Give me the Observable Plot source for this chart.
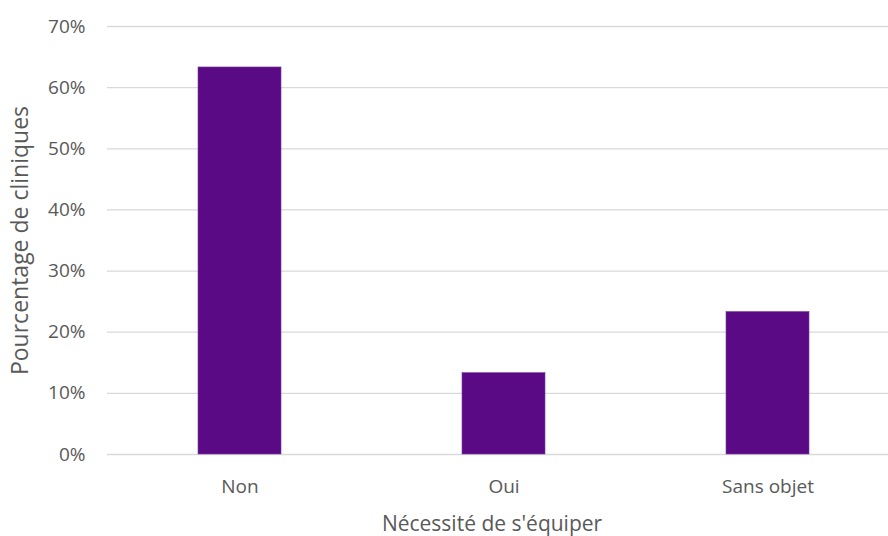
<!DOCTYPE html>
<html>
<head>
<meta charset="utf-8">
<script src="https://cdn.jsdelivr.net/npm/d3@7"></script>
<script src="https://cdn.jsdelivr.net/npm/@observablehq/plot@0.6"></script>
<style>
  html, body { margin: 0; padding: 0; background: #fff; }
  #chart svg { display: block; }
</style>
</head>
<body>
<div id="chart"></div>
<script>
const categories = ["Non", "Oui", "Sans objet"];
const values = [0.633, 0.133, 0.233];
const yTicks = [0, 0.1, 0.2, 0.3, 0.4, 0.5, 0.6, 0.7];
const xTitle = "Nécessité de s'équiper";
const yTitle = "Pourcentage de cliniques";

const data = categories.map((c, i) => ({category: c, value: values[i]}));

const font = "'Open Sans', Calibri, sans-serif";
const grey = "#595959";

const chart = Plot.plot({
  width: 888,
  height: 536,
  marginLeft: 107,
  marginRight: 0,
  marginTop: 26,
  marginBottom: 82,
  style: {fontFamily: font, background: "#fff"},
  x: {domain: categories, range: [107, 900], paddingInner: 0.686, paddingOuter: 0.343},
  y: {domain: [0, 0.7]},
  marks: [
    Plot.ruleY(yTicks, {stroke: "#d9d9d9", strokeWidth: 1.3}),
    Plot.barY(data, {x: "category", y: "value", fill: "#5a0a85", stroke: "#7a3aa0", strokeWidth: 0.6}),
    Plot.axisY({ticks: yTicks, tickFormat: d3.format(".0%"), tickSize: 0, tickPadding: 22, fontSize: 19, color: grey, label: null}),
    Plot.axisX({tickSize: 0, tickPadding: 25, fontSize: 19, color: grey, label: null}),
    Plot.text([xTitle], {frameAnchor: "bottom", lineAnchor: "middle", textAnchor: "middle", dy: 70, dx: -6, fontSize: 21, fill: grey}),
    Plot.text([yTitle], {frameAnchor: "left", lineAnchor: "middle", textAnchor: "middle", dx: -87, rotate: -90, fontSize: 23, fill: grey})
  ]
});
document.getElementById("chart").appendChild(chart);
</script>
</body>
</html>
